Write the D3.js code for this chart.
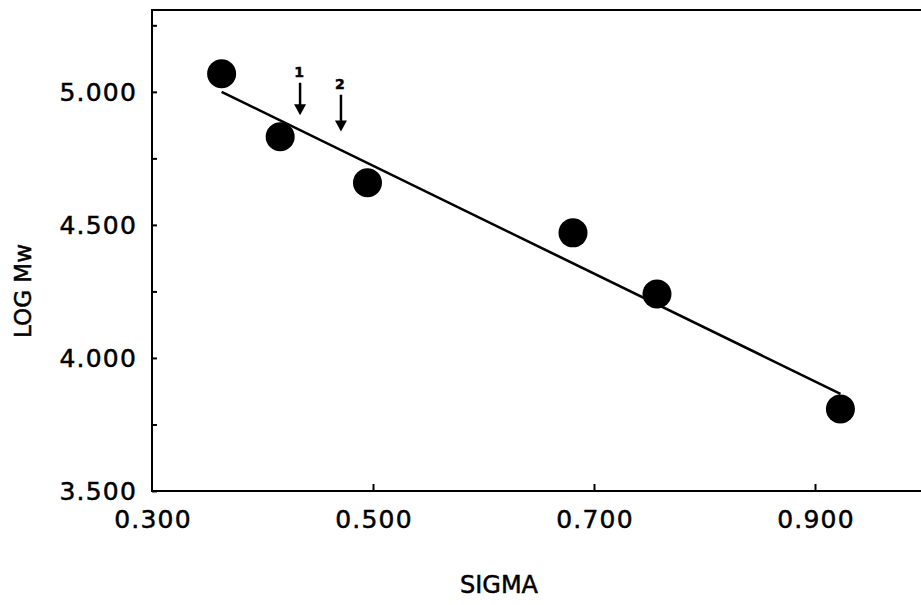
<!DOCTYPE html>
<html>
<head>
<meta charset="utf-8">
<script src="https://cdn.jsdelivr.net/npm/d3@7"></script>
<style>
  body { margin: 0; background: #fff; }
  text { font-family: 'DejaVu Sans', sans-serif; fill: #000; stroke: #000; stroke-width: 0.5px; }
</style>
</head>
<body>
<script>
// data
var sigma   = [0.363, 0.416, 0.495, 0.681, 0.757, 0.923]
var log_mw  = [5.068, 4.831, 4.658, 4.470, 4.240, 3.808]
// fitted line end points
var fit_sigma = [0.363, 0.923]
var fit_logmw = [5.000, 3.865]
// tick labels
var x_ticks = [0.3, 0.5, 0.7, 0.9]
var y_ticks = [3.5, 4.0, 4.5, 5.0]
var y_minor = [3.75, 4.25, 4.75, 5.25]
// arrow annotations "1" and "2"
var arrow_labels = ['1', '2']
var arrow_sigma  = [0.434, 0.471]
var arrow_top    = [5.034, 4.989]
var arrow_tip    = [4.912, 4.851]
var arrow_text_y = [5.054, 5.012]

function plot_it() {
    var svgWidth = 921, svgHeight = 605
    var svg = d3.select('body').append('svg').attr('width', svgWidth).attr('height', svgHeight).attr('id', 'svg0')

    var scale_x = d3.scaleLinear().domain([0.3, 1.0]).range([152, 925.5])
    var scale_y = d3.scaleLinear().domain([3.5, 5.3]).range([491, 12])

    // frame: left, bottom, top (right side runs off the page)
    var frame = svg.append('g').attr('stroke', '#000').attr('stroke-width', 2).attr('fill', 'none')
    frame.append('line').attr('x1', scale_x(0.3)).attr('x2', scale_x(0.3)).attr('y1', scale_y(3.5)).attr('y2', 10)
    frame.append('line').attr('x1', scale_x(0.3) - 1).attr('x2', svgWidth).attr('y1', scale_y(3.5)).attr('y2', scale_y(3.5))
    frame.append('line').attr('x1', scale_x(0.3) - 1).attr('x2', svgWidth).attr('y1', 10).attr('y2', 10)

    // inward ticks
    var y_axis = svg.append('g').attr('transform', 'translate(' + scale_x(0.3) + ',0)')
        .call(d3.axisRight(scale_y).tickValues(y_ticks.concat(y_minor)).tickSize(5).tickFormat(''))
    y_axis.select('.domain').remove()
    y_axis.selectAll('line').attr('stroke-width', 2)

    var x_axis = svg.append('g').attr('transform', 'translate(0,' + scale_y(3.5) + ')')
        .call(d3.axisTop(scale_x).tickValues(x_ticks.slice(1)).tickSize(7).tickFormat(''))
    x_axis.select('.domain').remove()
    x_axis.selectAll('line').attr('stroke-width', 2)

    // tick labels
    svg.selectAll('.ylab').data(y_ticks).enter().append('text').attr('class', 'ylab')
        .attr('x', 137).attr('y', d => scale_y(d) + 9)
        .attr('text-anchor', 'end').attr('font-size', '25px').attr('letter-spacing', '1.2px')
        .text(d => d3.format('.3f')(d))
    svg.selectAll('.xlab').data(x_ticks).enter().append('text').attr('class', 'xlab')
        .attr('x', d => scale_x(d) + 1).attr('y', 528)
        .attr('text-anchor', 'middle').attr('font-size', '25px').attr('letter-spacing', '1.2px')
        .text(d => d3.format('.3f')(d))

    // axis titles
    svg.append('text').attr('x', 499).attr('y', 593).attr('text-anchor', 'middle')
        .attr('font-size', '24px').text('SIGMA')
    svg.append('text').attr('transform', 'translate(31,291) rotate(-90)').attr('text-anchor', 'middle')
        .attr('font-size', '23px').text('LOG Mw')

    // fitted line
    var line0 = d3.line().x(d => scale_x(d[0])).y(d => scale_y(d[1]))
    svg.append('path').attr('d', line0(d3.zip(fit_sigma, fit_logmw)))
        .attr('fill', 'none').attr('stroke', '#000').attr('stroke-width', 2.6)

    // data points
    svg.selectAll('.pt').data(d3.zip(sigma, log_mw)).enter().append('circle').attr('class', 'pt')
        .attr('cx', d => scale_x(d[0])).attr('cy', d => scale_y(d[1])).attr('r', 14.5)
        .attr('fill', '#000')

    // arrows with labels
    arrow_labels.forEach((lab, i) => {
        var ax = scale_x(arrow_sigma[i]), y0 = scale_y(arrow_top[i]), y1 = scale_y(arrow_tip[i])
        svg.append('line').attr('x1', ax).attr('x2', ax).attr('y1', y0).attr('y2', y1 - 8)
            .attr('stroke', '#000').attr('stroke-width', 2.5)
        svg.append('path').attr('d', 'M' + (ax - 6) + ',' + (y1 - 11) + 'L' + (ax + 6) + ',' + (y1 - 11) + 'L' + ax + ',' + y1 + 'Z')
            .attr('fill', '#000')
        svg.append('text').attr('x', ax - 1).attr('y', scale_y(arrow_text_y[i]))
            .attr('text-anchor', 'middle').attr('font-size', '14px').attr('font-weight', 'bold')
            .text(lab)
    })
}
plot_it()
</script>
</body>
</html>
